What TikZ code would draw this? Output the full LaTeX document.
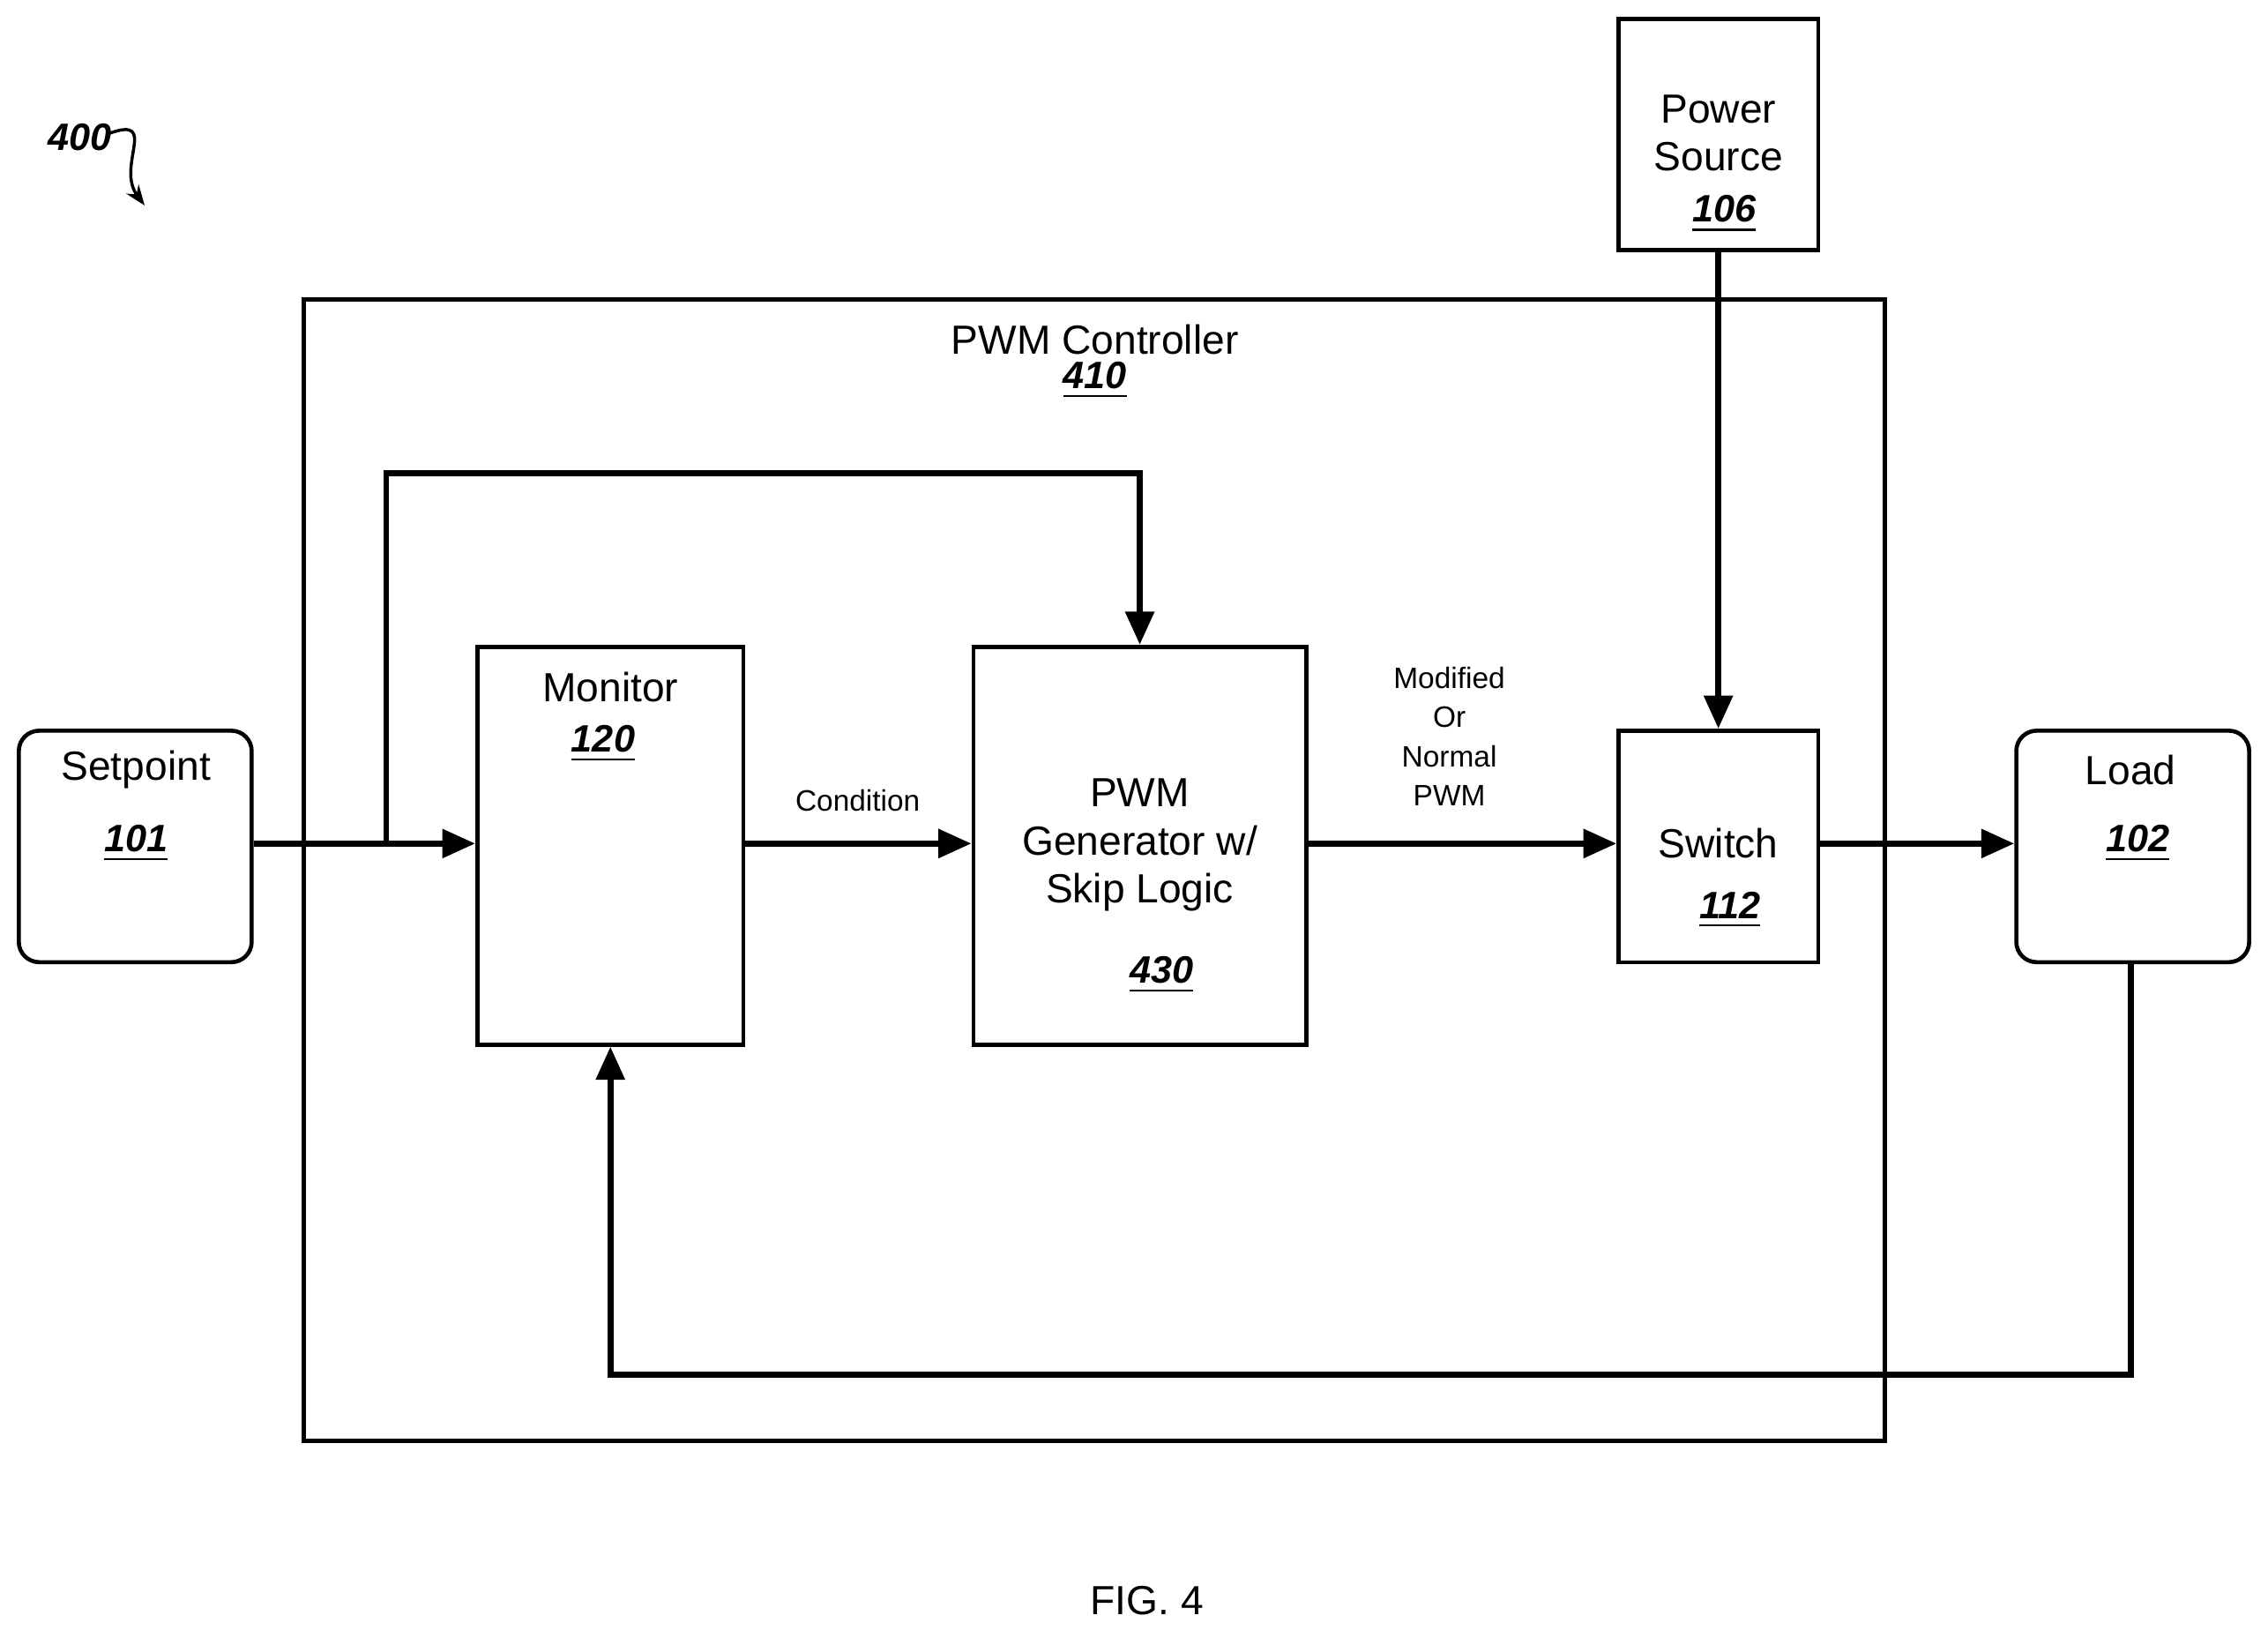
\documentclass[tikz,border=0pt]{standalone}
\usepackage{fontspec}
\setmainfont{Liberation Sans}
\usetikzlibrary{arrows.meta}
\begin{document}
\begin{tikzpicture}[x=0.01cm,y=-0.01cm,
  box/.style={draw,line width=0.8pt,inner sep=0},
  rbox/.style={box,rounded corners=4pt},
  wire/.style={line width=1.2pt,-{Triangle[length=6.5pt,width=5.5pt]}},
  txt/.style={font=\fontsize{8pt}{9.5pt}\selectfont,align=center},
  sm/.style={font=\fontsize{5.8pt}{7.7pt}\selectfont,align=center},
  num/.style={font=\fontsize{7.5pt}{9pt}\selectfont\bfseries\itshape}]
\useasboundingbox (0,0) rectangle (1568,1132);
% boxes
\node[box,minimum width=1093*0.01cm,minimum height=789*0.01cm] (ctl) at (756.5,601.5) {};
\node[box,minimum width=138*0.01cm,minimum height=160*0.01cm] (ps) at (1188,93) {};
\node[rbox,minimum width=161*0.01cm,minimum height=160*0.01cm] (sp) at (93.5,585) {};
\node[box,minimum width=184*0.01cm,minimum height=275*0.01cm] (mon) at (422,584.5) {};
\node[box,minimum width=230*0.01cm,minimum height=275*0.01cm] (gen) at (788,584.5) {};
\node[box,minimum width=138*0.01cm,minimum height=160*0.01cm] (sw) at (1188,585) {};
\node[rbox,minimum width=161*0.01cm,minimum height=160*0.01cm] (ld) at (1474.5,585) {};
% texts
\node[txt] (pst) at (1188,92) {Power\\Source};
\node[num] (psn) at (1192,148) {\underline{106}};
\node[txt] (ctlt) at (757,235) {PWM Controller};
\node[num] (ctln) at (757,263) {\underline{410}};
\node[txt] (spt) at (94,532) {Setpoint};
\node[num] (spn) at (94,583) {\underline{101}};
\node[txt] (mont) at (422,475) {Monitor};
\node[num] (monn) at (417,514) {\underline{120}};
\node[txt] (gent) at (788,584) {PWM\\Generator w/\\Skip Logic};
\node[num] (genn) at (803,674) {\underline{430}};
\node[txt] (swt) at (1188,583) {Switch};
\node[num] (swn) at (1196,629) {\underline{112}};
\node[txt] (ldt) at (1473,532) {Load};
\node[num] (ldn) at (1478,583) {\underline{102}};
\node[sm] (cond) at (593,553) {Condition};
\node[sm] (mod) at (1002,509) {Modified\\Or\\Normal\\PWM};
\node[txt] (fig) at (793,1106) {FIG. 4};
\node[num] (lbl) at (55,95) {400};
\coordinate (lblend) at (100,142);
\draw[line width=0.6pt,-{Stealth[length=4pt]}] (76,92) .. controls (110,80) and (80,115) .. (lblend);
% connectors
\coordinate (br) at (267,583);
\draw[wire] (sp.east |- 0,583) -- (mon.west |- 0,583);
\draw[wire] (br) -- (267,327) -- (788,327) -- (gen.north);
\draw[wire] (mon.east |- 0,583) -- (gen.west |- 0,583);
\draw[wire] (gen.east |- 0,583) -- (sw.west |- 0,583);
\draw[wire] (ps.south) -- (sw.north);
\draw[wire] (sw.east |- 0,583) -- (ld.west |- 0,583);
\draw[wire] (ld.south -| 1473,0) -- (1473,950) -- (422,950) -- (mon.south);
\end{tikzpicture}
\end{document}
